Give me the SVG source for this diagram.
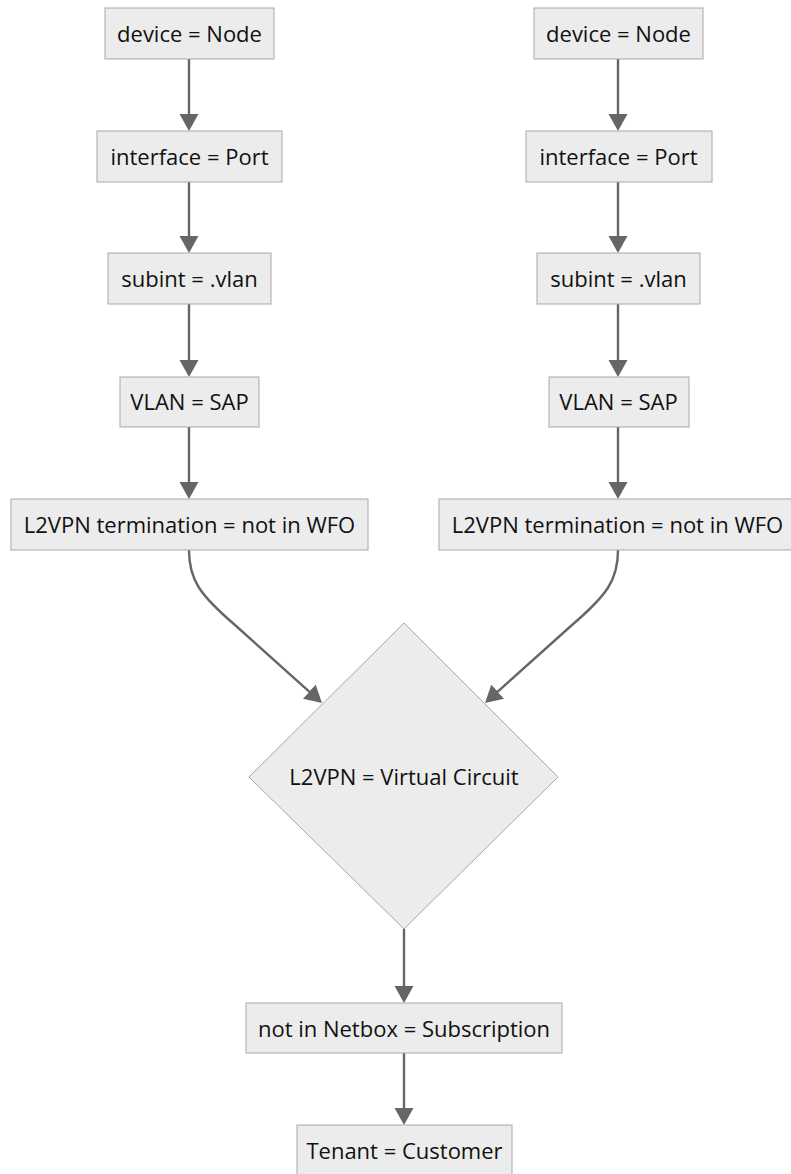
<svg xmlns="http://www.w3.org/2000/svg" width="791" height="1174" viewBox="0 0 791 1174">
<defs>
<style>
.node rect, .node polygon { fill: #ececec; stroke: #a8a8a8; stroke-width: 1; }
.node text { font-family: "Open Sans", "Noto Sans", "DejaVu Sans", sans-serif; font-size: 22px; fill: #111; text-anchor: middle; }
.edge { fill: none; stroke: #666; stroke-width: 2.4; }
</style>
<marker id="arrow" markerUnits="userSpaceOnUse" markerWidth="18" markerHeight="20" refX="13" refY="9.5" orient="auto">
<path d="M0,0 L17,9.5 L0,19 z" fill="#666"/>
</marker>
</defs>
<rect width="791" height="1174" fill="#ffffff"/>
<g id="connectors">
<path class="edge" d="M189,59 L189,127" marker-end="url(#arrow)"/>
<path class="edge" d="M189,182 L189,249" marker-end="url(#arrow)"/>
<path class="edge" d="M189,304 L189,373" marker-end="url(#arrow)"/>
<path class="edge" d="M189,427 L189,495" marker-end="url(#arrow)"/>
<path class="edge" d="M618,59 L618,127" marker-end="url(#arrow)"/>
<path class="edge" d="M618,182 L618,249" marker-end="url(#arrow)"/>
<path class="edge" d="M618,304 L618,373" marker-end="url(#arrow)"/>
<path class="edge" d="M618,427 L618,495" marker-end="url(#arrow)"/>
<path class="edge" d="M189,550 C189,580 200,595 235,625 L319,700.3" marker-end="url(#arrow)"/>
<path class="edge" d="M618,550 C618,580 607,595 572,625 L488,700.3" marker-end="url(#arrow)"/>
<path class="edge" d="M404,929 L404,999" marker-end="url(#arrow)"/>
<path class="edge" d="M404,1053 L404,1121" marker-end="url(#arrow)"/>
</g>
<g id="left-device" class="node"><rect x="105" y="8" width="169" height="51"/><text x="189.5" y="42">device = Node</text></g>
<g id="left-interface" class="node"><rect x="97" y="131" width="185" height="51"/><text x="189.5" y="165">interface = Port</text></g>
<g id="left-subint" class="node"><rect x="108" y="253" width="163" height="51"/><text x="189.5" y="287">subint = .vlan</text></g>
<g id="left-vlan" class="node"><rect x="120" y="377" width="139" height="50"/><text x="189.5" y="410">VLAN = SAP</text></g>
<g id="left-term" class="node"><rect x="11" y="499" width="357" height="51"/><text x="189.5" y="533">L2VPN termination = not in WFO</text></g>
<g id="right-device" class="node"><rect x="534" y="8" width="169" height="51"/><text x="618.5" y="42">device = Node</text></g>
<g id="right-interface" class="node"><rect x="526" y="131" width="186" height="51"/><text x="618.5" y="165">interface = Port</text></g>
<g id="right-subint" class="node"><rect x="537" y="253" width="163" height="51"/><text x="618.5" y="287">subint = .vlan</text></g>
<g id="right-vlan" class="node"><rect x="549" y="377" width="140" height="50"/><text x="618.5" y="410">VLAN = SAP</text></g>
<g id="right-term" class="node"><rect x="439" y="499" width="357" height="51"/><text x="617.5" y="533">L2VPN termination = not in WFO</text></g>
<g id="l2vpn" class="node"><polygon points="404,623 558,777 404,929 249,777"/><text x="404" y="785">L2VPN = Virtual Circuit</text></g>
<g id="subscription" class="node"><rect x="246" y="1003" width="316" height="50"/><text x="404" y="1037">not in Netbox = Subscription</text></g>
<g id="tenant" class="node"><rect x="297" y="1125" width="215" height="51"/><text x="404.5" y="1159">Tenant = Customer</text></g>
</svg>
